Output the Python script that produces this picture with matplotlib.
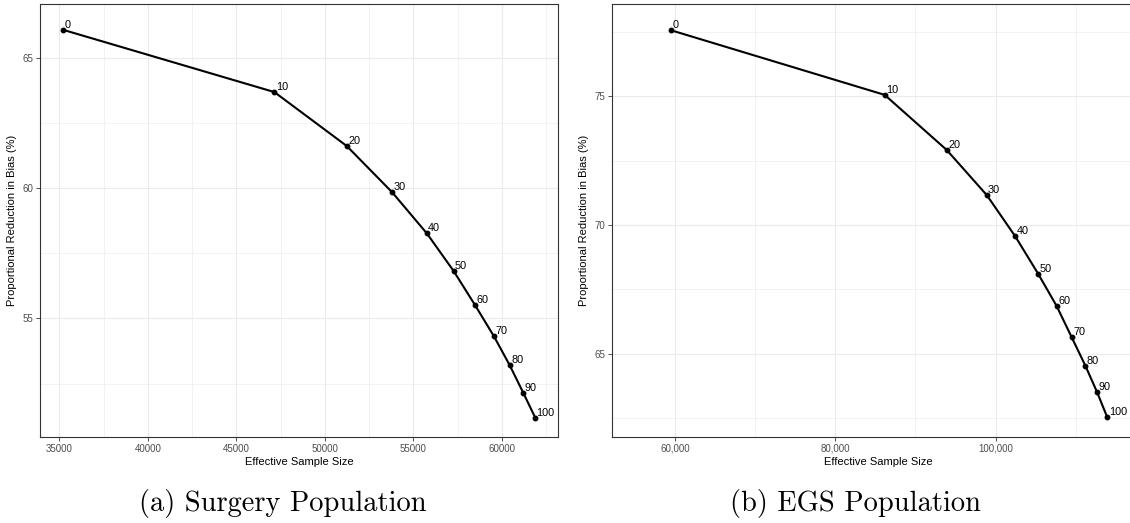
import numpy as np
import matplotlib
matplotlib.use('Agg')
import matplotlib.pyplot as plt
from matplotlib.ticker import FuncFormatter, FixedLocator

# Data

pct_labels = ['0', '10', '20', '30', '40', '50', '60', '70', '80', '90', '100']

surgery_ess = [35210, 47150, 51240, 53810, 55760, 57280, 58500, 59560, 60450, 61210, 61890]
surgery_bias = [66.08, 63.69, 61.62, 59.84, 58.27, 56.82, 55.50, 54.31, 53.20, 52.15, 51.19]

egs_ess = [59500, 86160, 93900, 98890, 102460, 105290, 107630, 109500, 111200, 112650, 113940]
egs_bias = [77.56, 75.05, 72.91, 71.16, 69.55, 68.11, 66.84, 65.63, 64.53, 63.51, 62.52]

captions = ['(a) Surgery Population', '(b) EGS Population']

W, H = 1130, 523

plt.rcParams['font.family'] = ['Liberation Sans', 'DejaVu Sans']

fig = plt.figure(figsize=(W / 100, H / 100), dpi=100)

# ggplot theme_bw look-alike panel

def setupPanel(ax, xlim, ylim, xmaj, xmin, ymaj, ymin, fmt=None):
    ax.set_xlim(*xlim)
    ax.set_ylim(*ylim)
    ax.xaxis.set_major_locator(FixedLocator(xmaj))
    ax.xaxis.set_minor_locator(FixedLocator(xmin))
    ax.yaxis.set_major_locator(FixedLocator(ymaj))
    ax.yaxis.set_minor_locator(FixedLocator(ymin))
    if fmt is not None:
        ax.xaxis.set_major_formatter(fmt)
    ax.grid(which='major', color='#EBEBEB', lw=0.8, zorder=0)
    ax.grid(which='minor', color='#EBEBEB', lw=0.45, zorder=0)
    ax.set_axisbelow(True)
    for s in ax.spines.values():
        s.set_color('#333333')
        s.set_linewidth(0.8)
    ax.tick_params(which='major', length=3, width=0.6, color='#333333',
                   labelsize=7, labelcolor='#4D4D4D', pad=2)
    ax.tick_params(which='minor', length=0)
    ax.set_xlabel('Effective Sample Size', fontsize=8, color='black', labelpad=2)
    ax.set_ylabel('Proportional Reduction in Bias (%)', fontsize=8, color='black', labelpad=4)

def drawCurve(ax, xs, ys):
    ax.plot(xs, ys, color='black', lw=1.5, marker='o', ms=3.2, zorder=3)
    for x, y, lab in zip(xs, ys, pct_labels):
        ax.annotate(lab, (x, y), xytext=(1, 0), textcoords='offset points',
                    ha='left', va='bottom', fontsize=7.8, color='black')

# Left panel: Surgery

ax1 = fig.add_axes([40 / W, 1 - 437 / H, (558 - 40) / W, (437 - 4) / H])
setupPanel(ax1, (33910, 63175), (50.45, 67.07),
           np.arange(35000, 60001, 5000), np.arange(37500, 62501, 5000),
           [55, 60, 65], [52.5, 57.5, 62.5])
drawCurve(ax1, surgery_ess, surgery_bias)

# Right panel: EGS (runs off the right edge like the reference)

ax2 = fig.add_axes([612.3 / W, 1 - 437 / H, (1145 - 612.3) / W, (437 - 4) / H])
setupPanel(ax2, (52177, 118640), (61.76, 78.58),
           [60000, 80000, 100000], [70000, 90000, 110000],
           [65, 70, 75], [62.5, 67.5, 72.5, 77.5],
           fmt=FuncFormatter(lambda v, p: f'{int(v):,}'))
ax2.spines['right'].set_visible(False)
drawCurve(ax2, egs_ess, egs_bias)

# Sub-figure captions

for cx, txt in zip([283, 855], captions):
    fig.text(cx / W, 1 - 503 / H, txt, ha='center', va='center',
             family=['cmr10', 'DejaVu Serif'], fontsize=20.5)

fig.savefig('out.png', dpi=100)
